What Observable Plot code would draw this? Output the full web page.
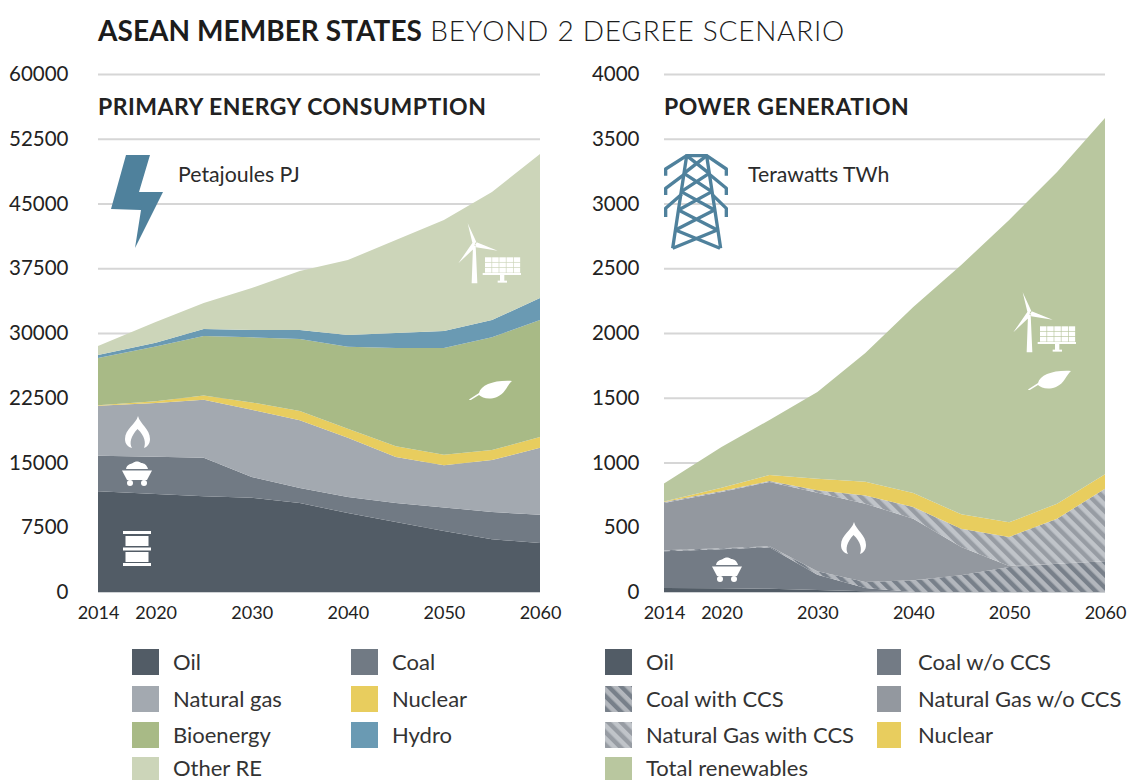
<!DOCTYPE html>
<html><head><meta charset="utf-8">
<script src="https://cdn.jsdelivr.net/npm/d3@7"></script>
<script src="https://cdn.jsdelivr.net/npm/@observablehq/plot@0.6"></script>
<style>
html,body{margin:0;padding:0;background:#fff;overflow:hidden}
#root{position:relative;width:1130px;height:780px;overflow:hidden;font-family:Lato,sans-serif;color:#2b2b2b}
#root>*{position:absolute}
.plot{top:0}
.plot svg{display:block;background:transparent}
.title{left:98px;top:12px;font-size:28px;line-height:36px;white-space:nowrap;color:#1c1c1c;font-weight:300;letter-spacing:.75px}
.title b{font-weight:700;letter-spacing:.05px}
.head{font-size:23px;font-weight:700;line-height:28px;top:92px;white-space:nowrap;color:#222;letter-spacing:.5px}
.unit{font-size:21.3px;line-height:26px;top:161px;white-space:nowrap;color:#2b2b2b}
.sw{width:27px;height:26px;display:block}
.lab{font-size:22px;line-height:22px;white-space:nowrap;color:#333}
#overlay{left:0;top:0;pointer-events:none}
</style></head><body>
<div id="root">
<svg width="0" height="0" style="left:0;top:0"><defs>
<pattern id="hatchCoal" patternUnits="userSpaceOnUse" width="9" height="9" patternTransform="rotate(-45)"><rect width="9" height="9" fill="#b3b7bd"/><rect width="4.4" height="9" fill="#78808a"/></pattern>
<pattern id="hatchGas" patternUnits="userSpaceOnUse" width="9" height="9" patternTransform="rotate(-45)"><rect width="9" height="9" fill="#c0c4c9"/><rect width="4.4" height="9" fill="#979ca3"/></pattern>
</defs></svg>
<div class="title"><b>ASEAN MEMBER STATES</b> BEYOND 2 DEGREE SCENARIO</div>
</div>
<script>
const years = [2014,2020,2025,2030,2035,2040,2045,2050,2055,2060];
const yearTicks = [2014,2020,2030,2040,2050,2060];

// Primary energy consumption, PJ
const peOil     = [11660,11350,11080,10920,10300,9150,8100,7060,6100,5670];
const peCoal    = [4130,4320,4480,2400,1740,1850,2200,2740,3160,3280];
const peGas     = [5790,6230,6710,7780,7840,6870,5330,4870,6030,7760];
const peNuclear = [40,200,500,860,1080,1040,1240,1230,1150,1240];
const peBio     = [5480,6350,6880,7540,8340,9490,11390,12360,13060,13550];
const peHydro   = [350,420,810,850,1050,1370,1740,1970,2000,2550];
const peOther   = [1050,2400,3010,4850,6830,8680,10770,12860,14830,16680];
const peNames   = ["Oil","Coal","Natural gas","Nuclear","Bioenergy","Hydro","Other RE"];
const peColors  = ["#525c66","#717a84","#a3a9b0","#e8cd5e","#a8ba86","#6a9ab3","#ccd5b9"];
const peTicks   = [0,7500,15000,22500,30000,37500,45000,52500,60000];

// Power generation, TWh
const pgOil     = [30,28,25,15,5,0,0,0,0,0];
const pgCoal    = [284,302,320,119,25,0,0,0,0,0];
const pgCoalCCS = [8,8,8,26,47,90,129,193,219,237];
const pgGas     = [366,435,497,607,605,476,218,7,0,0];
const pgGasCCS  = [7,7,7,18,64,90,142,225,347,561];
const pgNuclear = [3,25,46,90,106,108,111,113,116,111];
const pgRenew   = [139,315,425,670,994,1436,1925,2335,2561,2751];
const pgNames   = ["Oil","Coal w/o CCS","Coal with CCS","Natural Gas w/o CCS","Natural Gas with CCS","Nuclear","Total renewables"];
const pgColors  = ["#525c66","#737b85","url(#hatchCoal)","#93989f","url(#hatchGas)","#e8cd5e","#b9c79f"];
const pgTicks   = [0,500,1000,1500,2000,2500,3000,3500,4000];

function rows(names, arrays){
  return names.flatMap((series,i)=>years.map((year,j)=>({series,year,value:arrays[i][j]})));
}
function chart(names, arrays, colors, yMax, yTicks, marginLeft, tickPad){
  return Plot.plot({
    width:565,height:640,marginLeft,marginRight:25,marginTop:74,marginBottom:48,
    style:{fontFamily:"Lato,sans-serif",fontSize:"18px",color:"#222",background:"transparent"},
    x:{domain:[2014,2060]},
    y:{domain:[0,yMax]},
    color:{domain:names,range:colors},
    marks:[
      Plot.ruleY(yTicks.slice(1),{stroke:"#d6d6d6",strokeWidth:2}),
      Plot.areaY(rows(names,arrays),{x:"year",y:"value",z:"series",fill:"series",order:names}),
      Plot.ruleY([0],{stroke:"#cfd2d5",strokeWidth:1}),
      Plot.axisY({ticks:yTicks,tickSize:0,tickPadding:tickPad,tickFormat:d=>String(d),label:null,fontSize:20.5}),
      Plot.axisX({ticks:yearTicks,tickSize:0,tickPadding:14,tickFormat:d=>String(d),label:null,fontSize:18})
    ]
  });
}
const root = document.getElementById("root");
function put(node,left){const d=document.createElement("div");d.className="plot";d.style.left=left+"px";d.appendChild(node);root.appendChild(d);}
put(chart(peNames,[peOil,peCoal,peGas,peNuclear,peBio,peHydro,peOther],peColors,60000,peTicks,98,30),0);
put(chart(pgNames,[pgOil,pgCoal,pgCoalCCS,pgGas,pgGasCCS,pgNuclear,pgRenew],pgColors,4000,pgTicks,99,25),565);

function text(cls,str,left,top){const d=document.createElement("div");d.className=cls;d.textContent=str;d.style.left=left+"px";if(top!=null)d.style.top=top+"px";root.appendChild(d);}
text("head","PRIMARY ENERGY CONSUMPTION",98);
text("head","POWER GENERATION",664);
text("unit","Petajoules PJ",178);
text("unit","Terawatts TWh",748);

// Legends
function legend(names,colors,order,cols){
  order.forEach((name,i)=>{
    const k=names.indexOf(name), c=cols[i];
    const s=document.createElementNS("http://www.w3.org/2000/svg","svg");
    s.setAttribute("class","sw");s.style.left=c.sx+"px";s.style.top=c.y+"px";
    s.setAttribute("width",c.sw);s.setAttribute("height",26);s.style.width=c.sw+"px";
    const r=document.createElementNS("http://www.w3.org/2000/svg","rect");
    r.setAttribute("width",c.sw);r.setAttribute("height",26);r.setAttribute("fill",colors[k]);
    s.appendChild(r);root.appendChild(s);
    text("lab",name,c.lx,c.ty);
  });
}
const rowY=[649,686,722,757];
const textY=[651,688,724,757];
legend(peNames,peColors,["Oil","Natural gas","Bioenergy","Other RE","Coal","Nuclear","Hydro"],
  [0,1,2,3].map(i=>({sx:132,lx:173,y:rowY[i],ty:textY[i],sw:27})).concat([0,1,2].map(i=>({sx:351,lx:392,y:rowY[i],ty:textY[i],sw:27}))));
legend(pgNames,pgColors,["Oil","Coal with CCS","Natural Gas with CCS","Total renewables","Coal w/o CCS","Natural Gas w/o CCS","Nuclear"],
  [0,1,2,3].map(i=>({sx:605,lx:646,y:rowY[i],ty:textY[i],sw:27})).concat([0,1,2].map(i=>({sx:877,lx:918,y:rowY[i],ty:textY[i],sw:24}))));

// Pictograms (decoration, not data)
let cells="";
for(let i=0;i<5;i++)for(let j=0;j<3;j++){cells+=`<rect x="${120+i*21.5}" y="${130+j*16}" width="19.5" height="14"/>`;}
const grid=[32,85,140,195,255,310];
const lx=y=>110-(y-32)*0.151, rx=y=>170+(y-32)*0.144;
let lattice="";
for(let i=0;i<grid.length-1;i++){const a=grid[i],b=grid[i+1];
  lattice+=`M${lx(a)} ${a}L${rx(b)} ${b}M${rx(a)} ${a}L${lx(b)} ${b}`;}
document.getElementById("root").insertAdjacentHTML("beforeend",`
<svg id="overlay" width="1130" height="780" viewBox="0 0 1130 780">
<defs>
<symbol id="wind" viewBox="0 0 240 220" overflow="visible"><g fill="#fff">
 <path d="M68 28L95 86L85 98Z M158 110L93 84L84 98Z M40 148L84 84L94 97Z M84 95H92L97 208H80Z"/>
 ${cells}<rect x="113" y="177" width="115" height="6"/><rect x="165" y="183" width="13" height="18"/><rect x="158" y="200" width="28" height="6"/>
</g></symbol>
<symbol id="leaf" viewBox="0 0 43 20"><path fill="#fff" d="M0 19.5L10 13C12 5 25 0 43 1C38 5 37 13 28 17C20 20 13 18 10 15L1 20.5Z"/></symbol>
<symbol id="flame" viewBox="0 0 25 32"><path fill="#fff" d="M13 0C15 8 25 13 25 23C25 28 22 31 19 32C21 27 20 20 12.5 13C6 20 4 27 7 32C3 31 0 28 0 23C0 13 11 8 13 0Z"/></symbol>
<symbol id="cart" viewBox="0 0 30 25"><g fill="#fff"><path d="M4 8C5 3 9 3 11 2C13 0 17 0 19 2C22 2 25 4 26 8Z"/><path d="M0 9.5H30L25 19H5Z"/><circle cx="8" cy="22" r="3"/><circle cx="22" cy="22" r="3"/></g></symbol>
<symbol id="barrel" viewBox="0 0 28 35"><g fill="#fff"><rect width="28" height="3"/><rect x="2.5" y="5" width="23" height="10"/><rect y="16.5" width="28" height="3"/><rect x="2.5" y="21" width="23" height="10"/><rect y="32" width="28" height="3"/></g></symbol>
</defs>
<path fill="#4f819c" d="M126 155H150L139 192H163L135 248L141 210L111 209Z"/>
<g transform="translate(650 145) scale(.3333)" fill="none" stroke="#4f819c" stroke-width="10" stroke-linejoin="round">
 <path d="M68 310L110 32H170L212 310"/>
 <path d="${lattice}"/>
 <path d="M110 32L47 72V92M170 32L229 72V92"/>
 <path d="M47 150V130L103 88M229 150V130L178 88"/>
 <path d="M47 216V190L95 148M229 216V190L186 148"/>
</g>
<use href="#wind" x="445" y="214" width="80" height="73.3"/>
<use href="#wind" x="1000" y="283" width="80" height="73.3"/>
<use href="#leaf" x="469" y="380" width="43" height="20"/>
<use href="#leaf" x="1028" y="370" width="43" height="20"/>
<use href="#flame" x="125" y="416" width="25" height="32"/>
<use href="#flame" x="841" y="522" width="25" height="32"/>
<use href="#cart" x="122" y="461" width="30" height="25"/>
<use href="#cart" x="712" y="557" width="30" height="25"/>
<use href="#barrel" x="123" y="531" width="28" height="35"/>
</svg>`);
</script>
</body></html>
